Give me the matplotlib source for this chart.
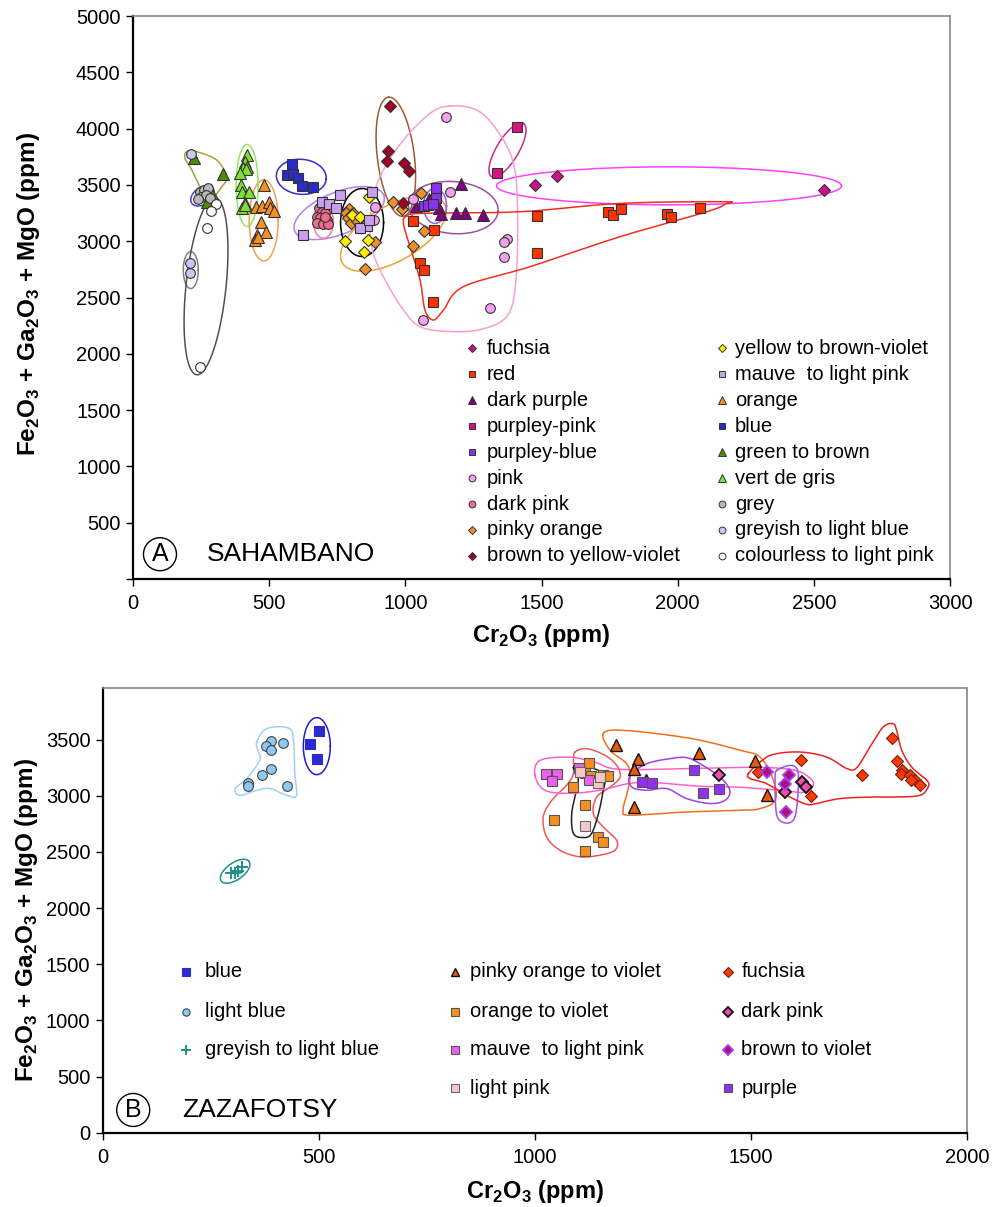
import numpy as np
import matplotlib
matplotlib.use('Agg')
import matplotlib.pyplot as plt

plt.rcParams['font.family'] = ['Liberation Sans', 'DejaVu Sans']
plt.rcParams['mathtext.fontset'] = 'custom'
plt.rcParams['mathtext.rm'] = 'Liberation Sans'
plt.rcParams['mathtext.bf'] = 'Liberation Sans:bold'

# ---- A: Sahambano, values (ppm)
a_fuchsia_x = [1476, 1556, 2537]
a_fuchsia_y = [3499, 3579, 3455]
a_red_x = [1027, 1106, 1054, 1070, 1101, 1482, 1482, 1745, 1764, 1791, 1960, 1975, 2082]
a_red_y = [3179, 3100, 2809, 2744, 2457, 3227, 2898, 3262, 3233, 3283, 3239, 3218, 3292]
a_dkpurple_x = [1039, 1088, 1125, 1131, 1204, 1186, 1219, 1286]
a_dkpurple_y = [3313, 3372, 3298, 3239, 3505, 3248, 3248, 3233]
a_ppink_x = [1409, 1336]
a_ppink_y = [4017, 3603]
a_pblue_x = [1113, 1113, 1069, 1084, 1100]
a_pblue_y = [3475, 3381, 3313, 3321, 3330]
a_pink_x = [1149, 889, 886, 1029, 1164, 1372, 1362, 1362, 1311, 1064]
a_pink_y = [4106, 3300, 3188, 3372, 3434, 3017, 2996, 2857, 2410, 2300]
a_dkpink_x = [684, 693, 705, 675, 687, 711, 677, 697, 717, 705]
a_dkpink_y = [3292, 3262, 3248, 3218, 3204, 3188, 3159, 3153, 3153, 3218]
a_porange_x = [793, 782, 809, 791, 799, 821, 889, 852, 956, 987, 1056, 1070, 1027]
a_porange_y = [3286, 3248, 3248, 3209, 3165, 3182, 2996, 2750, 3345, 3283, 3425, 3090, 2957]
a_brown_x = [944, 935, 932, 995, 1015, 990]
a_brown_y = [4204, 3804, 3715, 3692, 3627, 3343]
a_yellow_x = [868, 803, 834, 779, 862, 848]
a_yellow_y = [3390, 3233, 3218, 3002, 3011, 2901]
a_mauve_x = [625, 693, 721, 744, 760, 877, 858, 834, 868]
a_mauve_y = [3055, 3345, 3330, 3298, 3410, 3440, 3138, 3120, 3188]
a_orange_x = [482, 452, 475, 501, 503, 518, 470, 454, 488, 448, 460]
a_orange_y = [3499, 3307, 3313, 3351, 3292, 3268, 3173, 3055, 3085, 3011, 3040]
a_blue_x = [585, 564, 589, 605, 619, 660]
a_blue_y = [3683, 3588, 3597, 3564, 3490, 3479]
a_green_x = [225, 332, 289, 273]
a_green_y = [3736, 3594, 3417, 3351]
a_vdg_x = [417, 411, 420, 405, 415, 393, 395, 400, 427, 410, 400, 412]
a_vdg_y = [3766, 3700, 3662, 3650, 3640, 3603, 3499, 3440, 3434, 3342, 3292, 3321]
a_grey_x = [246, 261, 274, 250, 268, 283, 240]
a_grey_y = [3440, 3455, 3470, 3390, 3410, 3381, 3372]
a_glblue_x = [213, 210, 210]
a_glblue_y = [3774, 2809, 2720]
a_clear_x = [305, 285, 270, 246]
a_clear_y = [3330, 3268, 3120, 1880]

# ---- B: Zazafotsy
b_blue_x = [500, 479, 495]
b_blue_y = [3573, 3458, 3331]
b_ltblue_x = [388, 377, 388, 416, 388, 367, 335, 335, 427]
b_ltblue_y = [3485, 3443, 3405, 3473, 3242, 3189, 3114, 3085, 3085]
b_glblue_x = [296, 306, 321, 313]
b_glblue_y = [2313, 2308, 2367, 2331]
b_pov_x = [1188, 1239, 1230, 1257, 1230, 1380, 1509, 1536]
b_pov_y = [3449, 3324, 3242, 3144, 2900, 3384, 3310, 3004]
b_ov_x = [1126, 1116, 1130, 1157, 1168, 1087, 1116, 1045, 1145, 1157, 1116]
b_ov_y = [3292, 3203, 3174, 3189, 3174, 3078, 2922, 2788, 2633, 2584, 2506]
b_mauve_x = [1025, 1050, 1039, 1103, 1124]
b_mauve_y = [3197, 3191, 3132, 3251, 3144]
b_ltpink_x = [1104, 1146, 1116, 1150]
b_ltpink_y = [3212, 3114, 2731, 3167]
b_fuchsia_x = [1616, 1827, 1837, 1849, 1847, 1868, 1880, 1891, 1870, 1756, 1638, 1517]
b_fuchsia_y = [3316, 3518, 3307, 3227, 3191, 3182, 3138, 3099, 3138, 3182, 2996, 3212]
b_dkpink_x = [1427, 1617, 1627, 1579]
b_dkpink_y = [3182, 3123, 3078, 3034]
b_bviolet_x = [1589, 1579, 1580, 1536]
b_bviolet_y = [3182, 3102, 2856, 3212]
b_purple_x = [1247, 1270, 1368, 1388, 1425]
b_purple_y = [3123, 3114, 3233, 3025, 3064]

# group outlines: ellipses (centre in data, width/height in px, angle) and hulls (data vertices)
a_ellipses = [
    (419, 3495, 22, 82, 0, '#90e860'),
    (480, 3185, 29, 81, 0, '#f0a050'),
    (618, 3572, 50, 35, -5, '#3030d0'),
    (255, 3403, 26, 17, 35, '#4040d0'),
    (212, 2744, 15, 37, 0, '#808080'),
    (268, 2600, 178, 40, 84, '#505050'),
    (757, 3250, 96, 42, 22, '#b080f0'),
    (699, 3173, 20, 33, 0, '#f080a0'),
    (841, 3166, 43, 68, 0, '#000000'),
    (956, 3070, 118, 55, 30, '#f0a030'),
    (965, 3750, 120, 37, 97, '#a0582a'),
    (1176, 3299, 90, 52, -5, '#a050a0'),
    (1109, 3314, 23, 35, 0, '#9060f0'),
    (1375, 3810, 62, 22, 59, '#c03090'),
    (1968, 3492, 345, 38, 0, '#ff40ff'),
]
a_olive_hull = [(197, 3795), (234, 3795), (307, 3721), (344, 3573), (326, 3484), (283, 3366),
                (252, 3455), (216, 3632), (191, 3736)]
a_pink_hull = [(1164, 4201), (1262, 4165), (1336, 3988), (1397, 3692), (1412, 3248), (1406, 2655),
               (1375, 2340), (1274, 2215), (1152, 2200), (1054, 2241), (993, 2389), (932, 2626),
               (882, 2893), (870, 3129), (882, 3395), (919, 3632), (993, 3899), (1091, 4136)]
a_red_hull = [(1005, 3224), (1066, 3248), (1421, 3262), (1788, 3336), (2168, 3351), (2174, 3330),
              (2107, 3262), (1788, 3040), (1458, 2774), (1213, 2596), (1140, 2389), (1103, 2300),
              (1072, 2389), (1054, 2655), (1017, 2951), (993, 3159)]

b_ellipses = [
    (495, 3442, 27, 57, 0, '#2020c0'),
    (306, 2328, 34, 17, 35, '#20908a'),
]
b_ltblue_hull = [(356, 3479), (379, 3598), (429, 3604), (441, 3494), (444, 3197), (448, 3004),
                 (425, 3004), (387, 3064), (356, 3049), (317, 3004), (306, 3064), (333, 3153),
                 (363, 3316), (360, 3390)]
b_black_hull = [(1089, 3251), (1104, 3280), (1131, 3251), (1162, 3182), (1158, 3049), (1147, 2842),
                (1131, 2664), (1112, 2628), (1089, 2664), (1085, 2842), (1096, 3049), (1100, 3153)]
b_salmon_hull = [(1093, 3390), (1120, 3420), (1162, 3360), (1189, 3271), (1197, 3167), (1174, 3078),
                 (1143, 2989), (1135, 2842), (1158, 2722), (1189, 2604), (1185, 2515), (1150, 2471),
                 (1104, 2456), (1058, 2515), (1027, 2633), (1019, 2811), (1039, 2960), (1073, 3093),
                 (1089, 3197), (1089, 3316)]
b_pink_hull = [(1000, 3182), (1012, 3316), (1081, 3343), (1139, 3298), (1197, 3236), (1382, 3245),
               (1521, 3253), (1602, 3227), (1637, 3156), (1644, 3093), (1625, 3031), (1567, 3049),
               (1475, 3076), (1382, 3085), (1243, 3120), (1150, 3049), (1081, 3022), (1023, 3049)]
b_orange_hull = [(1158, 3553), (1204, 3583), (1359, 3512), (1475, 3405), (1521, 3345), (1552, 3138),
                 (1556, 2960), (1521, 2886), (1475, 2871), (1351, 2856), (1220, 2827), (1204, 2871),
                 (1212, 3004), (1220, 3167), (1212, 3286), (1174, 3405)]
b_purple_hull = [(1220, 3182), (1259, 3286), (1313, 3331), (1351, 3340), (1382, 3286), (1428, 3167),
                 (1451, 3049), (1440, 2960), (1405, 2931), (1351, 2975), (1305, 3064), (1259, 3049),
                 (1224, 3078)]
b_violet_hull = [(1560, 3227), (1590, 3271), (1606, 3242), (1610, 3138), (1606, 2900), (1598, 2782),
                 (1579, 2758), (1561, 2811), (1556, 2989), (1556, 3167)]
b_red_hull = [(1494, 3197), (1521, 3301), (1552, 3369), (1613, 3390), (1675, 3345), (1722, 3242),
              (1745, 3251), (1775, 3434), (1806, 3612), (1829, 3642), (1837, 3583), (1849, 3405),
              (1872, 3256), (1907, 3138), (1910, 3078), (1891, 3004), (1837, 2989), (1783, 2989),
              (1706, 2975), (1652, 2931), (1629, 2924), (1590, 2989), (1536, 3108), (1498, 3153)]

XLAB = r'Cr$_\mathbf{2}$O$_\mathbf{3}$ (ppm)'
YLAB = r'Fe$_\mathbf{2}$O$_\mathbf{3}$ + Ga$_\mathbf{2}$O$_\mathbf{3}$ + MgO (ppm)'


def ring(ax, cx, cy, w, h, ang, color):
    p0 = ax.transData.transform((0, 0))
    p1 = ax.transData.transform((1, 1))
    sx, sy = p1 - p0
    t = np.linspace(0, 2 * np.pi, 240)
    a = np.radians(ang)
    u = w / 2 * np.cos(t)
    v = h / 2 * np.sin(t)
    du = u * np.cos(a) - v * np.sin(a)
    dv = u * np.sin(a) + v * np.cos(a)
    ax.plot(cx + du / sx, cy + dv / sy, color=color, lw=1.1, zorder=2)


def hull(ax, pts, color, n=16):
    P = np.array(pts, dtype=float)
    N = len(P)
    out = []
    for i in range(N):
        q0, q1, q2, q3 = P[i - 1], P[i], P[(i + 1) % N], P[(i + 2) % N]
        for t in np.linspace(0, 1, n, endpoint=False):
            out.append(0.5 * (2 * q1 + (q2 - q0) * t + (2 * q0 - 5 * q1 + 4 * q2 - q3) * t ** 2
                              + (3 * q1 - q0 - 3 * q2 + q3) * t ** 3))
    out.append(out[0])
    out = np.array(out)
    ax.plot(out[:, 0], out[:, 1], color=color, lw=1.1, zorder=2)


def style_axes(ax):
    for s in ['left', 'bottom']:
        ax.spines[s].set_color('black')
        ax.spines[s].set_linewidth(1.6)
    for s in ['top', 'right']:
        ax.spines[s].set_color('#888888')
        ax.spines[s].set_linewidth(1.2)
    ax.tick_params(direction='out', length=5, width=1, labelsize=14.5, top=False, right=False)
    ax.tick_params(axis='x', pad=6)
    ax.tick_params(axis='y', pad=4)


def legend(ax, entries, xm, xt, ys, fs):
    for (lab, mk, fc, ec, ms, mew), y in zip(entries, ys):
        ax.plot([xm], [y], marker=mk, ms=ms, mfc=fc, mec=ec, mew=mew, ls='none',
                transform=ax.transAxes, clip_on=False, zorder=5)
        ax.text(xt, y, lab, transform=ax.transAxes, fontsize=fs, va='center', ha='left')


fig = plt.figure(figsize=(9.92, 12.07), dpi=100)

# ================= A
ax = fig.add_axes([0.1341, 0.5203, 0.8236, 0.4664])
ax.set_xlim(0, 3000)
ax.set_ylim(0, 5000)
ax.set_xticks(range(0, 3001, 500))
ax.set_yticks(range(0, 5001, 500))
ax.set_yticklabels([''] + [str(v) for v in range(500, 5001, 500)])
style_axes(ax)

for cx, cy, w, h, ang, c in a_ellipses:
    ring(ax, cx, cy, w, h, ang, c)
hull(ax, a_olive_hull, '#a8a040')
hull(ax, a_pink_hull, '#f5a0d0')
hull(ax, a_red_hull, '#f03020')

ek = '#333333'
a_series = [
    ('fuchsia', a_fuchsia_x, a_fuchsia_y, 'D', '#cc1188', 6.5),
    ('red', a_red_x, a_red_y, 's', '#ff3300', 7),
    ('dark purple', a_dkpurple_x, a_dkpurple_y, '^', '#800080', 8),
    ('purpley-pink', a_ppink_x, a_ppink_y, 's', '#d4147f', 7),
    ('purpley-blue', a_pblue_x, a_pblue_y, 's', '#8833ee', 7),
    ('pink', a_pink_x, a_pink_y, 'o', '#f5a0ee', 7),
    ('dark pink', a_dkpink_x, a_dkpink_y, 'o', '#f06a8c', 7),
    ('pinky orange', a_porange_x, a_porange_y, 'D', '#f0902a', 6.5),
    ('brown to yellow-violet', a_brown_x, a_brown_y, 'D', '#a00025', 6.5),
    ('yellow to brown-violet', a_yellow_x, a_yellow_y, 'D', '#fff000', 6.5),
    ('mauve  to light pink', a_mauve_x, a_mauve_y, 's', '#c8a0ee', 7),
    ('orange', a_orange_x, a_orange_y, '^', '#f59022', 8),
    ('blue', a_blue_x, a_blue_y, 's', '#2b2bc8', 7),
    ('green to brown', a_green_x, a_green_y, '^', '#4c8c00', 8),
    ('vert de gris', a_vdg_x, a_vdg_y, '^', '#80e030', 8),
    ('grey', a_grey_x, a_grey_y, 'o', '#b8b8b8', 7),
    ('greyish to light blue', a_glblue_x, a_glblue_y, 'o', '#c8c8f4', 7),
    ('colourless to light pink', a_clear_x, a_clear_y, 'o', '#ffffff', 7),
]
for lab, xs, ys, mk, fc, ms in a_series:
    ax.plot(xs, ys, marker=mk, ms=ms, mfc=fc, mec=ek, mew=0.8, ls='none', zorder=3)

rows = [0.4098 - 0.0461 * i for i in range(9)]
ents = [(lab, mk, fc, ek, ms * 0.7, 0.7) for lab, xs, ys, mk, fc, ms in a_series]
legend(ax, ents[:9], 0.4146, 0.4332, rows, 14.5)
legend(ax, ents[9:], 0.7205, 0.7365, rows, 14.5)

ax.text(0.033, 0.044, 'A', transform=ax.transAxes, fontsize=18, ha='center', va='center',
        bbox=dict(boxstyle='circle,pad=0.18', fc='white', ec='black', lw=1.0))
ax.text(0.0906, 0.044, 'SAHAMBANO', transform=ax.transAxes, fontsize=19, ha='left', va='center')
ax.set_xlabel(XLAB, fontsize=17, fontweight='bold')
ax.set_ylabel(YLAB, fontsize=17.5, fontweight='bold')
ax.xaxis.set_label_coords(0.4994, -0.101)
ax.xaxis.label.set_va('center')
ax.yaxis.set_label_coords(-0.128, 0.506)
ax.yaxis.label.set_va('center')

# ================= B
bx = fig.add_axes([0.1038, 0.0616, 0.871, 0.3684])
bx.set_xlim(0, 2000)
bx.set_ylim(0, 3960)
bx.set_xticks(range(0, 2001, 500))
bx.set_yticks(range(0, 3501, 500))
style_axes(bx)

for cx, cy, w, h, ang, c in b_ellipses:
    ring(bx, cx, cy, w, h, ang, c)
hull(bx, b_ltblue_hull, '#a0d0f8')
hull(bx, b_salmon_hull, '#f05858')
hull(bx, b_black_hull, '#222222')
hull(bx, b_pink_hull, '#ff60c8')
hull(bx, b_orange_hull, '#f07020')
hull(bx, b_purple_hull, '#a040f0')
hull(bx, b_violet_hull, '#a050f0')
hull(bx, b_red_hull, '#f02020')

b_series = [
    ('blue', b_blue_x, b_blue_y, 's', '#2a2ad0', '#2a2ad0', 7, 0.8),
    ('light blue', b_ltblue_x, b_ltblue_y, 'o', '#90c8f0', '#444444', 7, 0.8),
    ('greyish to light blue', b_glblue_x, b_glblue_y, '+', '#20908a', '#20908a', 9, 1.4),
    ('pinky orange to violet', b_pov_x, b_pov_y, '^', '#e85a0a', '#111111', 8, 1.0),
    ('orange to violet', b_ov_x, b_ov_y, 's', '#f59020', '#555555', 7, 0.8),
    ('mauve  to light pink', b_mauve_x, b_mauve_y, 's', '#f060f0', '#555555', 7, 0.8),
    ('light pink', b_ltpink_x, b_ltpink_y, 's', '#f8c8c8', '#666666', 7, 0.8),
    ('fuchsia', b_fuchsia_x, b_fuchsia_y, 'D', '#ff3a00', '#702010', 6.5, 0.8),
    ('dark pink', b_dkpink_x, b_dkpink_y, 'D', '#f050a8', '#111111', 6.5, 1.3),
    ('brown to violet', b_bviolet_x, b_bviolet_y, 'D', '#b01070', '#a040ff', 6.5, 1.3),
    ('purple', b_purple_x, b_purple_y, 's', '#9030f0', '#555555', 7, 0.8),
]
for lab, xs, ys, mk, fc, ec, ms, mew in b_series:
    bx.plot(xs, ys, marker=mk, ms=ms, mfc=fc, mec=ec, mew=mew, ls='none', zorder=3)

bents = [(lab, mk, fc, ec, ms * 0.75, mew) for lab, xs, ys, mk, fc, ec, ms, mew in b_series]
brows = [0.3614, 0.2714, 0.1860, 0.1004]
legend(bx, bents[:3], 0.0957, 0.1181, brows, 14.5)
legend(bx, bents[3:7], 0.408, 0.425, brows, 14.5)
legend(bx, bents[7:], 0.7234, 0.739, brows, 14.5)

bx.text(0.035, 0.051, 'B', transform=bx.transAxes, fontsize=18, ha='center', va='center',
        bbox=dict(boxstyle='circle,pad=0.18', fc='white', ec='black', lw=1.0))
bx.text(0.092, 0.051, 'ZAZAFOTSY', transform=bx.transAxes, fontsize=19, ha='left', va='center')
bx.set_xlabel(XLAB, fontsize=17, fontweight='bold')
bx.set_ylabel(YLAB, fontsize=17.5, fontweight='bold')
bx.xaxis.set_label_coords(0.5, -0.133)
bx.xaxis.label.set_va('center')
bx.yaxis.set_label_coords(-0.088, 0.478)
bx.yaxis.label.set_va('center')

fig.savefig('out.png', dpi=100)
